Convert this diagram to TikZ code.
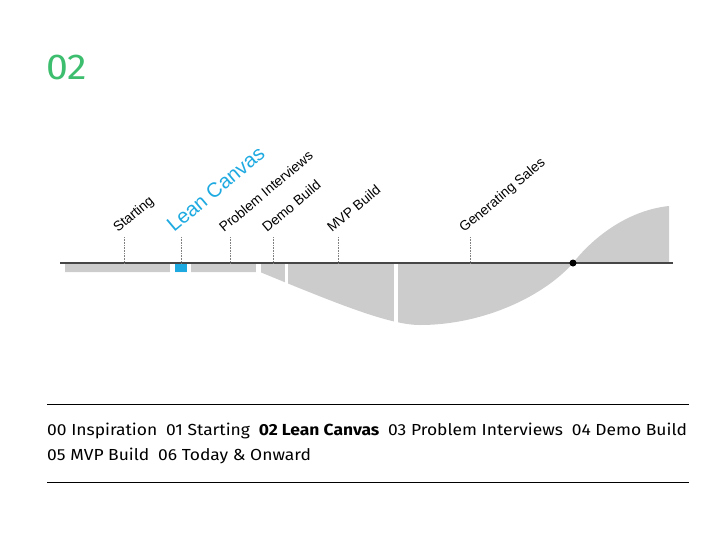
\documentclass[tikz,border=0pt]{standalone}
\usepackage{fontspec}
\setmainfont{Liberation Sans}
\newfontfamily\dinfont[FakeStretch=1.09]{Fira Sans}
\usetikzlibrary{positioning}
\definecolor{grn}{RGB}{60,190,110}
\definecolor{lean}{RGB}{30,170,225}
\definecolor{stage}{RGB}{204,204,204}
\definecolor{axisgray}{RGB}{70,70,70}
\newcommand{\menusep}{\hspace{0.55em}}
\tikzset{
  lbl/.style={rotate=40, anchor=base west, inner sep=0pt, font=\fontsize{13.8}{16}\selectfont},
  tick/.style={densely dotted, gray, line width=0.6pt},
  menu/.style={anchor=base west, inner sep=0pt, font=\dinfont\fontsize{16}{18}\selectfont},
  rule/.style={black, line width=0.8pt},
}

\begin{document}
\begin{tikzpicture}[x=1pt, y=-1pt]
\useasboundingbox (0,0) rectangle (728,546);
\node[anchor=base west, inner sep=0pt, text=grn, font=\dinfont\fontsize{36}{40}\selectfont] (num) at (46,79) {02};

% stages below the axis
\fill[stage] (65,263) -- (65,272) -- (260,272) .. controls (340,305) and (390,325) .. (420,325) .. controls (485,325) and (545,295) .. (573,263) -- cycle;
% growth above the axis
\fill[stage] (573,263) .. controls (595,235) and (630,210) .. (669,206) -- (669,263) -- cycle;
% cuts between the stages
\foreach \a/\b in {170/175, 187/191, 256/260.5, 284.5/288, 394/397.5}
  \fill[white] (\a,262) rectangle (\b,340);
\fill[lean] (175,263) rectangle (187,272);

% axis
\coordinate (axL) at (60,263);
\coordinate (axR) at (673,263);
\draw[axisgray, line width=1.5pt] (axL) -- (axR);
\node[circle, fill=black, inner sep=0pt, minimum size=7pt] (dot) at (573,263) {};

% stage labels
\foreach \n/\x/\t in {start/124/Starting, prob/230/Problem Interviews, demo/273/Demo Build, mvp/338/MVP Build, sales/470/Generating Sales} {
  \coordinate (\n-top) at (\x,237);
  \coordinate (\n-bot) at (\x,263);
  \draw[tick] (\n-top) -- (\n-bot);
  \node[lbl] (\n) at ([shift={(-6,-4)}]\n-top) {\t};
}
\coordinate (lean-top) at (181,237);
\coordinate (lean-bot) at (181,263);
\draw[tick] (lean-top) -- (lean-bot);
\node[lbl, text=lean, font=\fontsize{20.4}{24}\selectfont] (lean) at ([shift={(-7,-4)}]lean-top) {Lean Canvas};

% menu
\coordinate (r1L) at (47,404);
\coordinate (r1R) at (689,404);
\coordinate (r2L) at (47,482);
\coordinate (r2R) at (689,482);
\draw[rule] (r1L) -- (r1R);
\draw[rule] (r2L) -- (r2R);
\node[menu] (menuA) at (47,435) {00 Inspiration\menusep 01 Starting\menusep \textbf{02 Lean Canvas}\menusep 03 Problem Interviews\menusep 04 Demo Build};
\node[menu] (menuB) at (47,460) {05 MVP Build\menusep 06 Today \& Onward};
\end{tikzpicture}
\end{document}
